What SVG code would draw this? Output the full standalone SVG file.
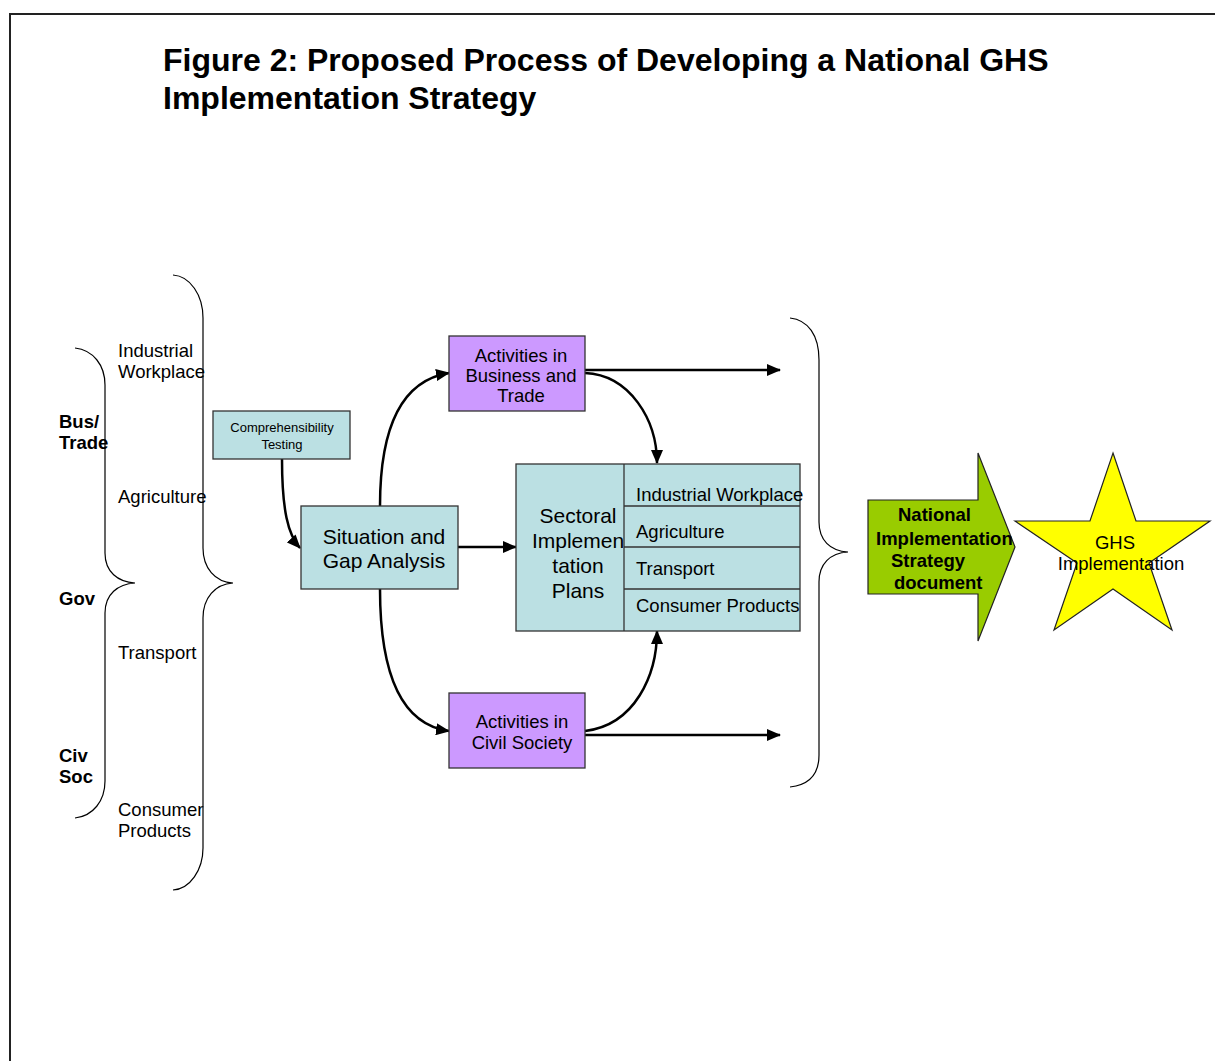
<svg xmlns="http://www.w3.org/2000/svg" width="1215" height="1061" viewBox="0 0 1215 1061">
  <style>
    text { font-family: "Liberation Sans", Arial, sans-serif; fill: #000; }
    .title { font-size: 32px; font-weight: bold; }
    .lbl { font-size: 18.5px; }
    .lblb { font-size: 18.5px; font-weight: bold; }
    .big { font-size: 21px; }
    .small { font-size: 13px; }
    .mid { text-anchor: middle; }
    .teal { fill: #bbe0e3; stroke: #333; stroke-width: 1.3; }
    .violet { fill: #cc99ff; stroke: #333; stroke-width: 1.3; }
    .brace { fill: none; stroke: #000; stroke-width: 1.2; }
    .conn { fill: none; stroke: #000; stroke-width: 2.5; marker-end: url(#head); }
    .rule { stroke: #333; stroke-width: 1.3; }
  </style>
  <defs>
    <marker id="head" viewBox="0 0 14 12" refX="13" refY="6" markerWidth="14" markerHeight="12" markerUnits="userSpaceOnUse" orient="auto">
      <path d="M0,0 L14,6 L0,12 Z" fill="#000"/>
    </marker>
  </defs>

  <rect width="1215" height="1061" fill="#fff"/>
  <!-- page frame -->
  <path d="M10,1061 V14 H1215" fill="none" stroke="#222" stroke-width="2"/>

  <!-- title -->
  <text class="title" x="163" y="71">Figure 2: Proposed Process of Developing a National GHS</text>
  <text class="title" x="163" y="109">Implementation Strategy</text>

  <!-- sector and stakeholder braces -->
  <g id="braces">
    <path class="brace" d="M75,348 C93,350 105,365 105,385 V553 C105,572 118,582 135,583 C118,584 105,594 105,613 V781 C105,801 93,816 75,818"/>
    <path class="brace" d="M173,275 C190,276 203,295 203,318 V548 C203,568 215,582 233,583 C215,584 203,598 203,618 V848 C203,870 190,889 173,890"/>
    <path class="brace" d="M790,318 C808,320 819,335 819,360 V522 C819,540 830,551 848,552 C830,553 819,564 819,582 V755 C819,775 808,785 790,787"/>
  </g>

  <g id="stakeholders">
    <text class="lblb" x="59" y="428">Bus/</text>
    <text class="lblb" x="59" y="449">Trade</text>
    <text class="lblb" x="59" y="605">Gov</text>
    <text class="lblb" x="59" y="762">Civ</text>
    <text class="lblb" x="59" y="783">Soc</text>
  </g>

  <g id="sectors">
    <text class="lbl" x="118" y="357">Industrial</text>
    <text class="lbl" x="118" y="378">Workplace</text>
    <text class="lbl" x="118" y="503">Agriculture</text>
    <text class="lbl" x="118" y="659">Transport</text>
    <text class="lbl" x="118" y="816">Consumer</text>
    <text class="lbl" x="118" y="837">Products</text>
  </g>

  <!-- connectors -->
  <g id="connectors">
    <path class="conn" d="M282,459 C282,510 288,535 300,548"/>
    <path class="conn" d="M380,506 C380,420 405,380 449,373"/>
    <path class="conn" d="M380,589 C380,680 405,725 449,731"/>
    <path class="conn" d="M458,547 H516"/>
    <path class="conn" d="M585,373 C630,375 657,420 657,463"/>
    <path class="conn" d="M585,731 C635,725 657,675 657,631"/>
    <path class="conn" d="M585,370 H780"/>
    <path class="conn" d="M585,735 H780"/>
  </g>

  <g id="comprehensibility">
    <rect class="teal" x="213" y="411" width="137" height="48"/>
    <text class="small mid" x="282" y="432">Comprehensibility</text>
    <text class="small mid" x="282" y="449">Testing</text>
  </g>

  <g id="situation">
    <rect class="teal" x="301" y="506" width="157" height="83"/>
    <text class="big mid" x="384" y="544">Situation and</text>
    <text class="big mid" x="384" y="568">Gap Analysis</text>
  </g>

  <g id="business">
    <rect class="violet" x="449" y="336" width="136" height="75"/>
    <text class="lbl mid" x="521" y="362">Activities in</text>
    <text class="lbl mid" x="521" y="382">Business and</text>
    <text class="lbl mid" x="521" y="402">Trade</text>
  </g>

  <g id="civil">
    <rect class="violet" x="449" y="693" width="136" height="75"/>
    <text class="lbl mid" x="522" y="728">Activities in</text>
    <text class="lbl mid" x="522" y="749">Civil Society</text>
  </g>

  <g id="sectoral">
    <rect class="teal" x="516" y="464" width="284" height="167"/>
    <text class="big mid" x="578" y="523">Sectoral</text>
    <text class="big mid" x="578" y="548">Implemen</text>
    <text class="big mid" x="578" y="573">tation</text>
    <text class="big mid" x="578" y="598">Plans</text>
    <line class="rule" x1="624" y1="464" x2="624" y2="631"/>
    <line class="rule" x1="624" y1="506" x2="800" y2="506"/>
    <line class="rule" x1="624" y1="547" x2="800" y2="547"/>
    <line class="rule" x1="624" y1="589" x2="800" y2="589"/>
    <text class="lbl" x="636" y="501">Industrial Workplace</text>
    <text class="lbl" x="636" y="538">Agriculture</text>
    <text class="lbl" x="636" y="575">Transport</text>
    <text class="lbl" x="636" y="612">Consumer Products</text>
  </g>

  <g id="strategy">
    <polygon points="868,500 978,500 978,453 1015,547 978,641 978,594 868,594" fill="#99cc00" stroke="#222" stroke-width="1.2"/>
    <text class="lblb" x="898" y="521">National</text>
    <text class="lblb" x="876" y="545">Implementation</text>
    <text class="lblb" x="891" y="567">Strategy</text>
    <text class="lblb" x="894" y="589">document</text>
  </g>

  <g id="ghs">
    <polygon points="1113,453 1136,521 1210,521 1149,563 1172,630 1113,589 1054,630 1077,563 1015,521 1090,521" fill="#ffff00" stroke="#222" stroke-width="1.2"/>
    <text class="lbl mid" x="1115" y="549">GHS</text>
    <text class="lbl mid" x="1121" y="570">Implementation</text>
  </g>
</svg>
